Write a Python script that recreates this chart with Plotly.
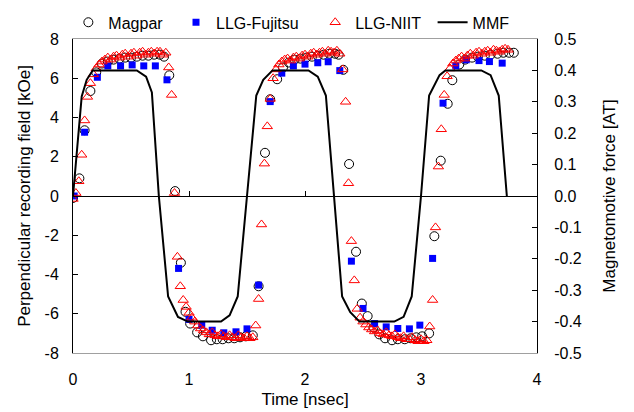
import plotly.graph_objects as go

# ---------------- data ----------------
x_ticks = [0, 1, 2, 3, 4]
x_ticklabels = ["0", "1", "2", "3", "4"]
left_ticks = [-8, -6, -4, -2, 0, 2, 4, 6, 8]
left_ticklabels = ["-8", "-6", "-4", "-2", "0", "2", "4", "6", "8"]
right_ticks = [-0.5, -0.4, -0.3, -0.2, -0.1, 0.0, 0.1, 0.2, 0.3, 0.4, 0.5]
right_ticklabels = ["-0.5", "-0.4", "-0.3", "-0.2", "-0.1", "0.0",
                    "0.1", "0.2", "0.3", "0.4", "0.5"]

magpar_t = [0.00, 0.055, 0.10, 0.15, 0.20, 0.25, 0.30, 0.35, 0.40, 0.45,
            0.50, 0.55, 0.60, 0.65, 0.70, 0.75, 0.785, 0.83, 0.88, 0.93,
            0.97, 1.01, 1.07, 1.12, 1.19, 1.24, 1.29, 1.34, 1.39, 1.44,
            1.49, 1.55, 1.60, 1.655, 1.70, 1.76, 1.81, 1.86, 1.91, 1.96,
            2.01, 2.06, 2.11, 2.16, 2.21, 2.26, 2.29, 2.33, 2.38, 2.44,
            2.49, 2.54, 2.59, 2.64, 2.69, 2.75, 2.80, 2.86, 2.91, 2.96,
            3.01, 3.07, 3.115, 3.17, 3.23, 3.27, 3.33, 3.38, 3.44, 3.49,
            3.55, 3.60, 3.66, 3.71, 3.76, 3.80]
magpar_h = [-0.1, 0.9, 3.35, 5.35, 6.3, 6.75, 6.85, 6.95, 7.0, 7.05,
            7.05, 7.1, 7.15, 7.15, 7.2, 7.2, 7.1, 6.15, 0.25, -3.4,
            -5.9, -6.5, -6.95, -7.15, -7.35, -7.3, -7.3, -7.25, -7.25, -7.2,
            -7.15, -7.1, -4.6, 2.2, 4.93, 5.95, 6.55, 6.8, 6.95, 7.0,
            7.05, 7.1, 7.15, 7.2, 7.25, 7.25, 7.2, 6.43, 1.63, -2.84,
            -5.48, -6.12, -6.7, -7.05, -7.25, -7.35, -7.3, -7.3, -7.25, -7.2,
            -7.15, -7.0, -2.05, 1.8, 4.7, 5.9, 6.7, 6.95, 7.05, 7.1,
            7.15, 7.2, 7.25, 7.3, 7.3, 7.3]

fujitsu_t = [0.01, 0.10, 0.21, 0.30, 0.41, 0.51, 0.61, 0.71, 0.81, 0.91,
             1.00, 1.11, 1.20, 1.30, 1.405, 1.50, 1.60, 1.70, 1.80, 1.90,
             2.00, 2.11, 2.20, 2.30, 2.40, 2.50, 2.60, 2.70, 2.80, 2.90,
             2.99, 3.10, 3.19, 3.30, 3.39, 3.50, 3.59, 3.70]
fujitsu_h = [0.0, 3.25, 6.05, 6.63, 6.63, 6.68, 6.63, 6.63, 5.92, -3.69,
             -6.29, -6.58, -6.84, -6.97, -6.92, -6.77, -4.54, 4.81, 6.26, 6.63,
             6.72, 6.79, 6.84, 6.39, -3.32, -5.73, -6.50, -6.67, -6.75, -6.77,
             -6.58, -3.18, 4.73, 6.63, 6.94, 6.90, 6.85, 6.77]

niit_t = [0.000, 0.025, 0.050, 0.075, 0.100, 0.125, 0.150, 0.175, 0.200, 0.225,
          0.250, 0.275, 0.300, 0.325, 0.350, 0.375, 0.400, 0.425, 0.450, 0.475,
          0.500, 0.525, 0.550, 0.575, 0.600, 0.625, 0.650, 0.675, 0.700, 0.725,
          0.750, 0.775, 0.800, 0.825, 0.850, 0.875, 0.900, 0.925, 0.950, 0.975,
          1.000, 1.025, 1.050, 1.075, 1.100, 1.125, 1.150, 1.175, 1.200, 1.225,
          1.250, 1.275, 1.300, 1.325, 1.350, 1.375, 1.400, 1.425, 1.450, 1.475,
          1.500, 1.525, 1.550, 1.575, 1.600, 1.625, 1.650, 1.675, 1.700, 1.725,
          1.750, 1.775, 1.800, 1.825, 1.850, 1.875, 1.900, 1.925, 1.950, 1.975,
          2.000, 2.025, 2.050, 2.075, 2.100, 2.125, 2.150, 2.175, 2.200, 2.225,
          2.250, 2.275, 2.300, 2.325, 2.350, 2.375, 2.400, 2.425, 2.450, 2.475,
          2.500, 2.525, 2.550, 2.575, 2.600, 2.625, 2.650, 2.675, 2.700, 2.725,
          2.750, 2.775, 2.800, 2.825, 2.850, 2.875, 2.900, 2.925, 2.950, 2.975,
          3.000, 3.025, 3.050, 3.075, 3.100, 3.125, 3.150, 3.175, 3.200, 3.225,
          3.250, 3.275, 3.300, 3.325, 3.350, 3.375, 3.400, 3.425, 3.450, 3.475,
          3.500, 3.525, 3.550, 3.575, 3.600, 3.625, 3.650, 3.675, 3.700, 3.725,
          3.750]
niit_h = [-0.15, 0.15, 0.75, 2.1, 3.85, 5.05, 5.75, 6.2, 6.5, 6.7,
          6.85, 6.95, 7.05, 6.95, 7.1, 7.15, 7.05, 7.2, 7.25, 7.1,
          7.25, 7.3, 7.15, 7.3, 7.35, 7.2, 7.3, 7.35, 7.25, 7.35,
          7.35, 7.2, 7.3, 6.55, 5.15, 0.15, -3.1, -4.6, -5.3, -5.65,
          -5.95, -6.2, -6.4, -6.6, -6.75, -6.85, -6.95, -7.05, -6.95, -7.1,
          -7.15, -7.05, -7.15, -7.2, -7.1, -7.2, -7.25, -7.1, -7.2, -7.25,
          -7.15, -7.25, -7.2, -6.6, -5.25, -1.45, 1.65, 3.55, 4.95, 6.0,
          6.45, 6.7, 6.85, 6.95, 7.0, 6.9, 7.05, 7.1, 7.0, 7.15,
          7.2, 7.1, 7.25, 7.3, 7.2, 7.3, 7.35, 7.25, 7.4, 7.35,
          7.3, 7.4, 7.25, 6.45, 4.8, 0.65, -2.3, -4.3, -5.75, -6.2,
          -6.4, -6.55, -6.7, -6.8, -6.9, -6.85, -7.0, -7.05, -6.95, -7.1,
          -7.15, -7.05, -7.2, -7.25, -7.15, -7.3, -7.3, -7.2, -7.35, -7.4,
          -7.3, -7.4, -7.35, -6.65, -5.3, -1.6, 1.5, 3.4, 5.15, 6.1,
          6.5, 6.75, 6.9, 7.0, 7.1, 7.0, 7.15, 7.25, 7.15, 7.3,
          7.35, 7.25, 7.35, 7.4, 7.3, 7.45, 7.4, 7.35, 7.45, 7.5,
          7.45]

mmf_t = [0, 0.075, 0.118, 0.17, 0.55, 0.63, 0.68, 0.74,
         0.82, 0.905, 0.99, 1.276, 1.35, 1.42, 1.50,
         1.58, 1.64, 1.72, 2.03, 2.11, 2.18, 2.25,
         2.32, 2.39, 2.47, 2.77, 2.85, 2.92, 3.0,
         3.07, 3.16, 3.21, 3.52, 3.6, 3.67, 3.74]
mmf_at = [0, 0.317, 0.37, 0.40, 0.40, 0.38, 0.33, 0,
          -0.32, -0.385, -0.40, -0.40, -0.38, -0.32, 0,
          0.32, 0.37, 0.40, 0.40, 0.38, 0.32, 0,
          -0.32, -0.37, -0.40, -0.40, -0.385, -0.32, 0,
          0.32, 0.385, 0.40, 0.40, 0.385, 0.32, 0]

# ---------------- figure ----------------
FONT = "Arial, Liberation Sans, sans-serif"
fig = go.Figure()

fig.add_trace(go.Scatter(
    x=magpar_t, y=magpar_h, mode="markers", name="Magpar",
    marker=dict(symbol="circle-open", size=9, color="black", line=dict(width=1)),
    legend="legend"))
fig.add_trace(go.Scatter(
    x=fujitsu_t, y=fujitsu_h, mode="markers", name="LLG-Fujitsu",
    marker=dict(symbol="square", size=7, color="#0000FF"),
    legend="legend2"))
fig.add_trace(go.Scatter(
    x=niit_t, y=niit_h, mode="markers", name="LLG-NIIT",
    marker=dict(symbol="triangle-up-open", size=9, color="#FF0000", line=dict(width=1)),
    legend="legend3"))
fig.add_trace(go.Scatter(
    x=mmf_t, y=mmf_at, mode="lines", name="MMF", yaxis="y2",
    line=dict(color="black", width=2),
    legend="legend4"))
# carrier for the tick marks drawn on the zero line
fig.add_trace(go.Scatter(x=[None], y=[None], xaxis="x3", yaxis="y",
                         showlegend=False, hoverinfo="skip"))

leg_common = dict(orientation="h", yanchor="middle", y=1.053, xanchor="left",
                  font=dict(family=FONT, size=16, color="black"),
                  bgcolor="rgba(0,0,0,0)", itemwidth=30)

fig.update_layout(
    width=634, height=412,
    margin=dict(l=73, r=97, t=39, b=59, autoexpand=False),
    paper_bgcolor="white", plot_bgcolor="white",
    font=dict(family=FONT, size=16, color="black"),
    legend=dict(x=-0.01, **leg_common),
    legend2=dict(x=0.222, **leg_common),
    legend3=dict(x=0.522, **leg_common),
    legend4=dict(x=0.775, **leg_common),
    xaxis=dict(range=[0, 4], tickvals=x_ticks, ticktext=x_ticklabels,
               ticks="", showgrid=False, zeroline=False, automargin=False,
               showline=True, linecolor="#A0A0A0", linewidth=1, mirror=True,
               ticklabelstandoff=12,
               title=dict(text="Time [nsec]", font=dict(size=17), standoff=5)),
    xaxis3=dict(range=[0, 4], overlaying="x", anchor="free", position=0.5,
                tickvals=x_ticks, ticks="inside", ticklen=5, tickcolor="black",
                showticklabels=False, showline=False, showgrid=False,
                zeroline=False),
    yaxis=dict(range=[-8, 8], tickvals=left_ticks, ticktext=left_ticklabels,
               ticks="inside", ticklen=5, tickcolor="black", automargin=False,
               showline=True, linecolor="black", linewidth=1,
               zeroline=True, zerolinecolor="black", zerolinewidth=1,
               showgrid=False, ticklabelstandoff=10,
               title=dict(text="Perpendicular recording field [kOe]",
                          font=dict(size=17), standoff=9)),
    yaxis2=dict(range=[-0.5, 0.5], overlaying="y", side="right",
                tickvals=right_ticks, ticktext=right_ticklabels,
                ticks="inside", ticklen=5, tickcolor="black", automargin=False,
                showline=True, linecolor="black", linewidth=1,
                zeroline=False, showgrid=False, ticklabelstandoff=13,
                title=dict(text="Magnetomotive force [AT]",
                           font=dict(size=17), standoff=22)),
)

fig.write_html("out.html",
               config={"displayModeBar": False},
               post_script="document.body.style.margin='0';"
                           "document.body.style.padding='0';")
